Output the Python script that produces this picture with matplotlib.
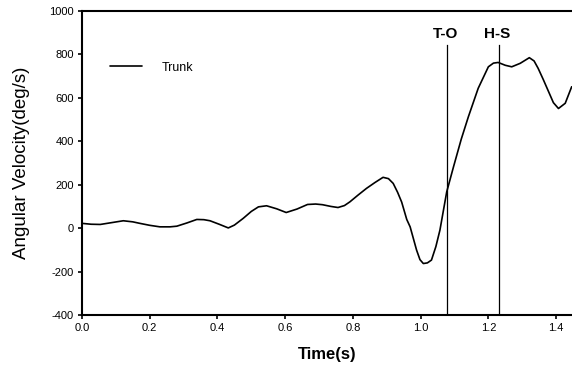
import matplotlib
matplotlib.use("Agg")
import matplotlib.pyplot as plt

plt.rcParams['font.family'] = ['Liberation Sans', 'DejaVu Sans']

time_s = [0.000, 0.027, 0.054, 0.090, 0.122, 0.150, 0.171, 0.200, 0.230, 0.260,
          0.280, 0.310, 0.339, 0.360, 0.378, 0.405, 0.432, 0.450, 0.476, 0.500,
          0.521, 0.545, 0.575, 0.603, 0.635, 0.666, 0.690, 0.710, 0.735, 0.756,
          0.775, 0.791, 0.815, 0.840, 0.865, 0.889, 0.905, 0.919, 0.932, 0.944,
          0.959, 0.969, 0.988, 0.998, 1.008, 1.020, 1.032, 1.045, 1.057, 1.077,
          1.097, 1.120, 1.141, 1.170, 1.200, 1.215, 1.229, 1.250, 1.269, 1.294,
          1.321, 1.335, 1.347, 1.362, 1.378, 1.392, 1.407, 1.427, 1.446]
trunk = [22, 18, 17, 26, 34, 29, 22, 13, 6, 6,
         9, 24, 40, 39, 34, 18, 1, 14, 45, 77,
         98, 103, 89, 72, 88, 109, 111, 108, 100, 95,
         104, 121, 152, 183, 210, 234, 228, 206, 165, 120,
         40, 6, -101, -145, -163, -160, -147, -85, -9, 167,
         282, 410, 513, 644, 743, 760, 763, 750, 743, 759,
         785, 770, 736, 685, 628, 578, 551, 575, 651]

events = ['T-O', 'H-S']
event_times = [1.078, 1.231]

x_ticks = [0.0, 0.2, 0.4, 0.6, 0.8, 1.0, 1.2, 1.4]
y_ticks = [-400, -200, 0, 200, 400, 600, 800, 1000]

fig = plt.figure(figsize=(5.72, 3.74), dpi=100)
ax = fig.add_axes([82/572, 1 - 315/374, 1 - 82/572, (315 - 11)/374])

ax.plot(time_s, trunk, color='black', lw=1.2, label='Trunk',
        solid_joinstyle='round', solid_capstyle='round')
for name, t in zip(events, event_times):
    ax.plot([t, t], [-400, 843], color='black', lw=0.9)
    ax.text(t - 0.005, 862, name, ha='center', va='bottom', fontsize=11,
            fontweight='bold')

ax.set_xlim(0, 1.447)
ax.set_ylim(-400, 1000)
ax.set_xticks(x_ticks)
ax.set_xticklabels([f'{v:.1f}' for v in x_ticks], fontsize=8)
ax.set_yticks(y_ticks)
ax.set_yticklabels([str(v) for v in y_ticks], fontsize=8)
ax.tick_params(direction='out', length=3, width=1.2, pad=3)
ax.spines['right'].set_visible(False)
for s in ['left', 'bottom', 'top']:
    ax.spines[s].set_linewidth(1.5)

ax.set_xlabel('Time(s)', fontsize=12, fontweight='bold', labelpad=10)
ax.set_ylabel('Angular Velocity(deg/s)', fontsize=13.5, labelpad=14)

ax.legend(loc='upper left', bbox_to_anchor=(0.035, 0.87), frameon=False,
          fontsize=9, handlelength=2.5, handletextpad=1.6)

fig.savefig('out.png', dpi=100)
